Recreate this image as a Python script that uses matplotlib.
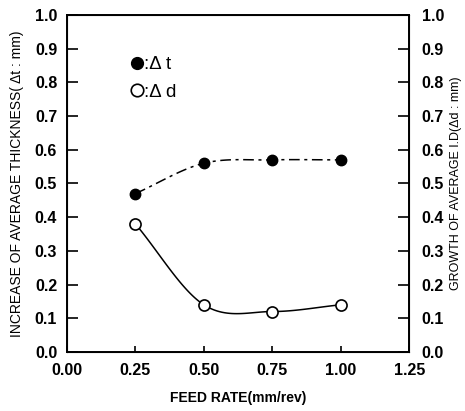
import numpy as np
import matplotlib
matplotlib.use("Agg")
import matplotlib.pyplot as plt
from matplotlib.lines import Line2D

plt.rcParams['font.family'] = ['Liberation Sans', 'DejaVu Sans']

feed_rate = [0.25, 0.50, 0.75, 1.00]
delta_t = [0.47, 0.56, 0.57, 0.57]
delta_d = [0.38, 0.14, 0.12, 0.14]

xticks = [0.00, 0.25, 0.50, 0.75, 1.00, 1.25]
yticks = [0.0, 0.1, 0.2, 0.3, 0.4, 0.5, 0.6, 0.7, 0.8, 0.9, 1.0]


def catmull_rom(xs, ys, n=40):
    xs = np.asarray(xs, float); ys = np.asarray(ys, float)
    px = np.concatenate([[2*xs[0]-xs[1]], xs, [2*xs[-1]-xs[-2]]])
    py = np.concatenate([[2*ys[0]-ys[1]], ys, [2*ys[-1]-ys[-2]]])
    ox, oy = [], []
    for i in range(1, len(px)-2):
        t = np.linspace(0, 1, n, endpoint=(i == len(px)-3))
        for arr, out in ((px, ox), (py, oy)):
            p0, p1, p2, p3 = arr[i-1], arr[i], arr[i+1], arr[i+2]
            out.extend(0.5*((2*p1) + (-p0+p2)*t + (2*p0-5*p1+4*p2-p3)*t**2 + (-p0+3*p1-3*p2+p3)*t**3))
    return np.array(ox), np.array(oy)


fig = plt.figure(figsize=(4.65, 4.11), dpi=100)
ax = fig.add_axes([0.144, 0.1436, 0.736, 0.82])

sx, sy = catmull_rom(feed_rate, delta_t)
ax.plot(sx, sy, color='black', lw=1.1, dashes=(7, 3, 2, 3))
ax.plot(feed_rate, delta_t, 'o', color='black', ms=7.5, zorder=3)

sx, sy = catmull_rom(feed_rate, delta_d)
ax.plot(sx, sy, color='black', lw=1.1)
ax.plot(feed_rate, delta_d, 'o', mfc='white', mec='black', mew=1.2, ms=8, zorder=3)

ax.set_xlim(0, 1.25)
ax.set_ylim(0, 1.0)
ax.set_xticks(xticks)
ax.set_xticklabels([f"{v:.2f}" for v in xticks])
ax.set_yticks(yticks)
ax.set_yticklabels([f"{v:.1f}" for v in yticks])
ax.tick_params(axis='y', direction='in', length=8, width=1.2, labelsize=11.5, pad=7)
ax.tick_params(axis='x', direction='in', length=4, width=1.2, labelsize=11.5, pad=8)
for lab in ax.get_xticklabels() + ax.get_yticklabels():
    lab.set_fontweight('bold')
for s in ax.spines.values():
    s.set_linewidth(1.4)

ax2 = ax.twinx()
ax2.set_ylim(0, 1.0)
ax2.set_yticks(yticks)
ax2.set_yticklabels([f"{v:.1f}" for v in yticks])
ax2.tick_params(axis='y', direction='in', length=8, width=1.2, labelsize=11.5, pad=9)
for lab in ax2.get_yticklabels():
    lab.set_fontweight('bold')

ax.set_xlabel("FEED RATE(mm/rev)", fontsize=10, fontweight='bold', labelpad=9)
ax.set_ylabel("INCREASE OF AVERAGE THICKNESS( Δt : mm)", fontsize=10, labelpad=8)
ax2.set_ylabel("GROWTH OF AVERAGE I.D(Δd : mm)", fontsize=9, rotation=90, labelpad=4)

handles = [Line2D([], [], ls='none', marker='o', color='black', ms=8.5),
           Line2D([], [], ls='none', marker='o', mfc='white', mec='black', mew=1.2, ms=9)]
ax.legend(handles, [":Δ t", ":Δ d"], loc='upper left', bbox_to_anchor=(0.165, 0.9),
          frameon=False, fontsize=13.5, handlelength=0.6, handletextpad=0.1,
          labelspacing=0.55, borderaxespad=0)

fig.savefig("out.png", dpi=100)
